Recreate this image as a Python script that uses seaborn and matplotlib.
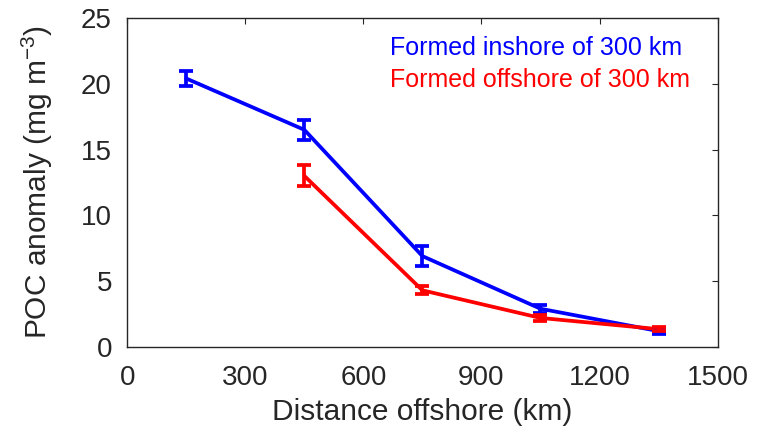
import matplotlib
matplotlib.use("Agg")
import matplotlib.pyplot as plt
import seaborn as sns
import pandas as pd

# Data
x_inshore = [150, 450, 750, 1050, 1350]
y_inshore = [20.4, 16.5, 6.9, 2.9, 1.2]
e_inshore = [0.6, 0.75, 0.75, 0.3, 0.25]

x_offshore = [450, 750, 1050, 1350]
y_offshore = [13.0, 4.3, 2.2, 1.35]
e_offshore = [0.8, 0.3, 0.25, 0.15]

labels = ["Formed inshore of 300 km", "Formed offshore of 300 km"]
colors = ["#0000ff", "#ff0000"]
xticks = [0, 300, 600, 900, 1200, 1500]
yticks = [0, 5, 10, 15, 20, 25]

sns.set_style("white")
plt.rcParams["font.family"] = ["Liberation Sans", "DejaVu Sans"]
plt.rcParams["mathtext.fontset"] = "custom"
plt.rcParams["mathtext.rm"] = "Liberation Sans"
plt.rcParams["mathtext.it"] = "Liberation Sans:italic"

df = pd.concat([
    pd.DataFrame({"x": x_inshore, "y": y_inshore, "e": e_inshore, "group": labels[0]}),
    pd.DataFrame({"x": x_offshore, "y": y_offshore, "e": e_offshore, "group": labels[1]}),
])

fig = plt.figure(figsize=(7.57, 4.38), dpi=100)
ax = fig.add_axes([0.168, 0.208, 0.780, 0.751])

sns.lineplot(data=df, x="x", y="y", hue="group", palette=dict(zip(labels, colors)),
             linewidth=2.7, ax=ax, legend=False, errorbar=None)
for lab, col in zip(labels, colors):
    sub = df[df["group"] == lab]
    ax.errorbar(sub["x"], sub["y"], yerr=sub["e"], fmt="none", ecolor=col,
                elinewidth=2.7, capsize=5, capthick=2.7)

ax.set_xlim(0, 1500)
ax.set_ylim(0, 25)
ax.set_xticks(xticks)
ax.set_yticks(yticks)
ax.tick_params(direction="in", top=True, right=True, length=4, width=0.8,
               labelsize=20, colors="#262626")
ax.tick_params(axis="x", pad=13)
ax.tick_params(axis="y", pad=11)
for s in ax.spines.values():
    s.set_color("#262626")
    s.set_linewidth(1.0)
ax.set_xlabel("Distance offshore (km)", fontsize=21.5, color="#262626", labelpad=5)
ax.set_ylabel("POC anomaly (mg m$^{\\mathrm{-3}}$)", fontsize=21.5, color="#262626", labelpad=19)

ax.text(0.445, 0.909, labels[0], transform=ax.transAxes, color=colors[0],
        fontsize=18, ha="left", va="center")
ax.text(0.445, 0.812, labels[1], transform=ax.transAxes, color=colors[1],
        fontsize=18, ha="left", va="center")

fig.savefig("out.png", dpi=100)
